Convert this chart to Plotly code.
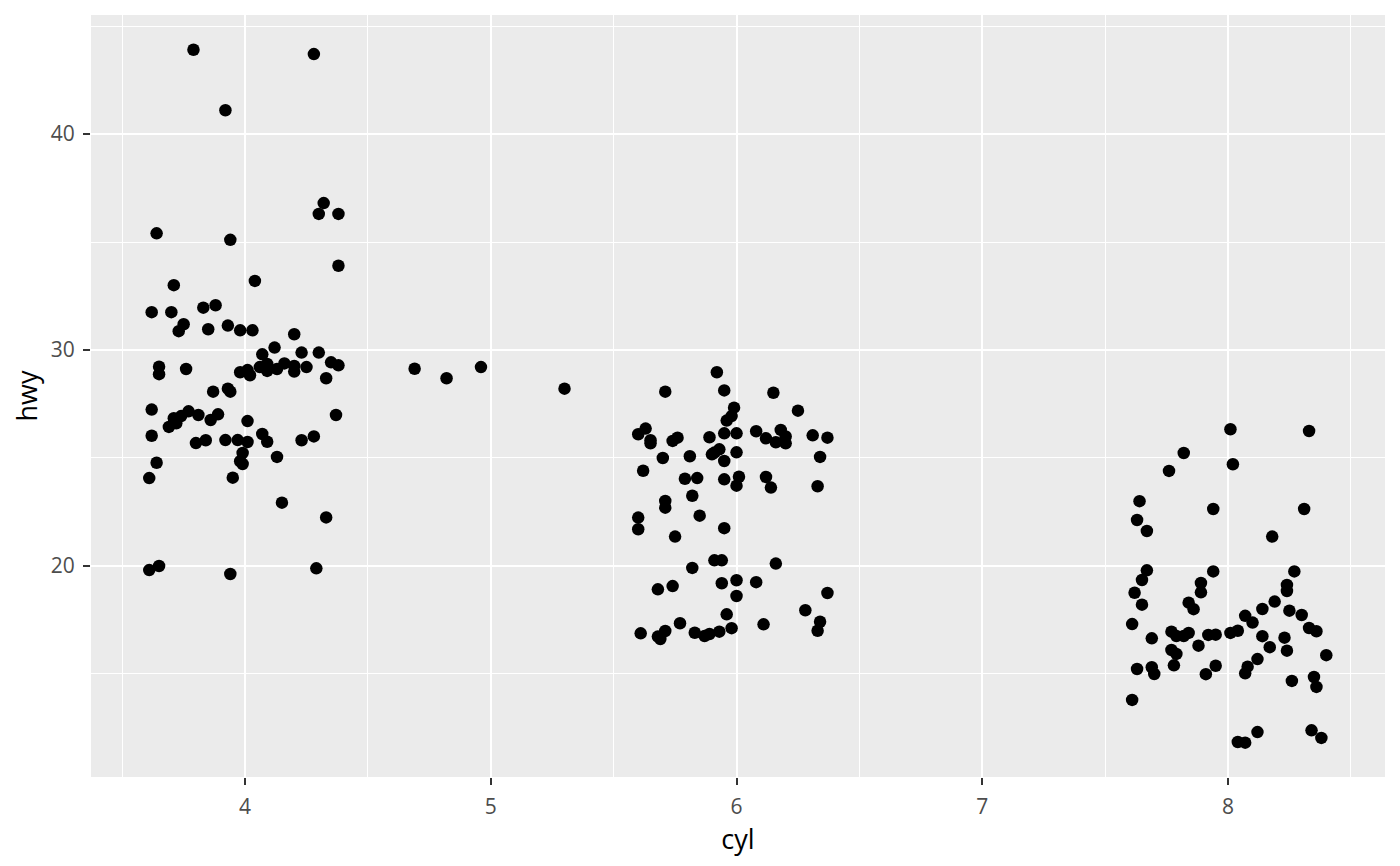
import plotly.graph_objects as go

# jittered positions (cyl with jitter, hwy with jitter)
cyl4_x = [3.79, 3.92, 4.28, 4.32, 4.30, 4.38, 3.64, 3.94, 4.38, 3.71, 4.04,
          3.62, 3.70, 3.83, 3.88, 3.75, 3.73, 3.85, 3.93, 3.98, 4.03, 4.20, 4.12,
          4.07, 4.23, 4.30, 3.65, 3.65, 3.76, 3.98, 4.01, 4.02, 4.06, 4.09, 4.09,
          4.13, 4.16, 4.20, 4.20, 4.25, 4.35, 4.38, 4.33, 3.87, 3.93, 3.94, 3.62,
          3.77, 3.74, 3.71, 3.72, 3.69, 3.81, 3.86, 3.89, 4.01, 4.37, 3.62, 3.80,
          3.84, 3.92, 3.97, 4.01, 4.07, 4.09, 4.23, 4.28, 3.99, 3.98, 3.99, 4.13,
          3.64, 3.61, 3.95, 4.15, 4.33, 3.61, 3.65, 3.94, 4.29]
cyl4_y = [43.9, 41.1, 43.7, 36.8, 36.3, 36.3, 35.4, 35.1, 33.9, 33.0, 33.2,
          31.75, 31.75, 31.96, 32.07, 31.19, 30.87, 30.96, 31.13, 30.91, 30.91, 30.73, 30.11,
          29.80, 29.88, 29.88, 29.23, 28.88, 29.12, 28.97, 29.07, 28.83, 29.21, 29.03, 29.35,
          29.12, 29.38, 29.26, 29.0, 29.21, 29.43, 29.29, 28.69, 28.07, 28.21, 28.07, 27.24,
          27.16, 26.94, 26.84, 26.61, 26.44, 26.99, 26.76, 27.02, 26.71, 26.99, 26.03, 25.69,
          25.82, 25.83, 25.83, 25.74, 26.11, 25.75, 25.82, 26.0, 25.23, 24.85, 24.72, 25.05,
          24.78, 24.07, 24.09, 22.93, 22.25, 19.81, 20.0, 19.63, 19.89]

cyl5_x = [4.69, 4.82, 4.96, 5.30]
cyl5_y = [29.13, 28.69, 29.21, 28.21]

cyl6_x = [5.92, 5.71, 5.95, 6.15, 6.25, 5.99, 5.98, 5.96, 5.63, 5.60, 5.65, 5.65,
          5.76, 5.74, 5.89, 5.95, 6.00, 6.08, 6.12, 6.18, 6.20, 6.16, 6.20, 6.31,
          6.37, 5.70, 5.81, 5.90, 5.93, 5.91, 6.00, 5.95, 6.34, 5.62, 5.79, 5.84,
          5.95, 6.01, 6.00, 6.12, 6.14, 6.33, 5.82, 5.71, 5.71, 5.85, 5.60, 5.60,
          5.95, 5.75, 5.91, 5.94, 6.16, 5.82, 5.68, 5.74, 5.94, 6.00, 6.08, 6.00,
          6.37, 5.96, 6.28, 6.34, 6.33, 5.77, 5.61, 5.68, 5.71, 5.69, 5.83, 5.87,
          5.89, 5.93, 5.98, 6.11]
cyl6_y = [28.97, 28.07, 28.13, 28.02, 27.19, 27.33, 26.94, 26.73, 26.36, 26.10, 25.82, 25.68,
          25.94, 25.79, 25.96, 26.14, 26.14, 26.24, 25.91, 26.30, 26.0, 25.73, 25.68, 26.05,
          25.94, 25.0, 25.08, 25.17, 25.40, 25.25, 25.26, 24.86, 25.05, 24.41, 24.04, 24.07,
          24.01, 24.13, 23.72, 24.12, 23.63, 23.69, 23.25, 23.01, 22.70, 22.33, 22.24, 21.70,
          21.75, 21.36, 20.26, 20.26, 20.11, 19.91, 18.92, 19.07, 19.20, 19.34, 19.25, 18.61,
          18.75, 17.76, 17.95, 17.42, 17.0, 17.35, 16.88, 16.73, 16.99, 16.62, 16.91, 16.76,
          16.85, 16.96, 17.12, 17.30]

cyl8_x = [8.01, 8.33, 7.82, 8.02, 7.76, 7.64, 7.94, 8.31, 7.63, 7.67, 8.18, 7.67,
          7.94, 8.27, 7.65, 7.89, 7.89, 7.62, 8.24, 8.24, 7.65, 7.84, 7.86, 8.19,
          8.14, 8.25, 8.07, 8.10, 8.30, 7.61, 8.33, 8.36, 7.77, 7.79, 7.82, 7.84,
          7.92, 7.95, 8.01, 8.04, 7.69, 8.14, 8.23, 7.88, 8.17, 8.24, 7.77, 7.79,
          8.40, 8.12, 7.63, 7.69, 7.70, 7.78, 7.91, 7.95, 8.08, 8.07, 8.26, 8.35,
          8.36, 7.61, 8.12, 8.04, 8.07, 8.34, 8.38]
cyl8_y = [26.33, 26.25, 25.23, 24.71, 24.40, 23.0, 22.64, 22.64, 22.13, 21.62, 21.36, 19.80,
          19.75, 19.75, 19.35, 19.21, 18.78, 18.76, 19.12, 18.84, 18.21, 18.30, 18.0, 18.35,
          18.01, 17.93, 17.69, 17.38, 17.73, 17.31, 17.13, 16.98, 16.96, 16.76, 16.76, 16.90,
          16.81, 16.82, 16.90, 17.0, 16.65, 16.75, 16.68, 16.31, 16.24, 16.08, 16.11, 15.93,
          15.87, 15.69, 15.23, 15.31, 15.0, 15.40, 14.99, 15.38, 15.34, 15.03, 14.68, 14.86,
          14.40, 13.80, 12.31, 11.85, 11.82, 12.39, 12.04]

x_all = cyl4_x + cyl5_x + cyl6_x + cyl8_x
y_all = cyl4_y + cyl5_y + cyl6_y + cyl8_y

fig = go.Figure(go.Scatter(
    x=x_all, y=y_all, mode="markers",
    marker=dict(color="black", size=12.5, line=dict(width=0)),
    hoverinfo="x+y",
))

FONT = "Open Sans, Noto Sans, DejaVu Sans, sans-serif"
axis_common = dict(
    showgrid=True, gridcolor="white", gridwidth=2.4,
    zeroline=False, showline=False,
    ticks="outside", ticklen=7, tickwidth=2, tickcolor="#333333",
    ticklabelstandoff=4,
    tickfont=dict(family=FONT, size=21, color="#4D4D4D"),
    title_font=dict(family=FONT, size=27, color="black"),
    tick0=0,
)

# the page body has an 8px margin, so the figure is sized to sit inside it
fig.update_layout(
    width=1384, height=850,
    paper_bgcolor="white", plot_bgcolor="#EBEBEB",
    margin=dict(l=83, r=7, t=7, b=81, pad=0),
    showlegend=False,
    font=dict(family=FONT),
    xaxis=dict(axis_common, range=[3.373, 8.639], dtick=1,
               title=dict(text="cyl", standoff=1),
               minor=dict(dtick=0.5, showgrid=True, gridcolor="white", gridwidth=1.2, ticks="")),
    yaxis=dict(axis_common, range=[10.23, 45.51], dtick=10,
               title=dict(text="hwy", standoff=12),
               minor=dict(dtick=5, showgrid=True, gridcolor="white", gridwidth=1.2, ticks="")),
)

fig.write_html("out.html")
